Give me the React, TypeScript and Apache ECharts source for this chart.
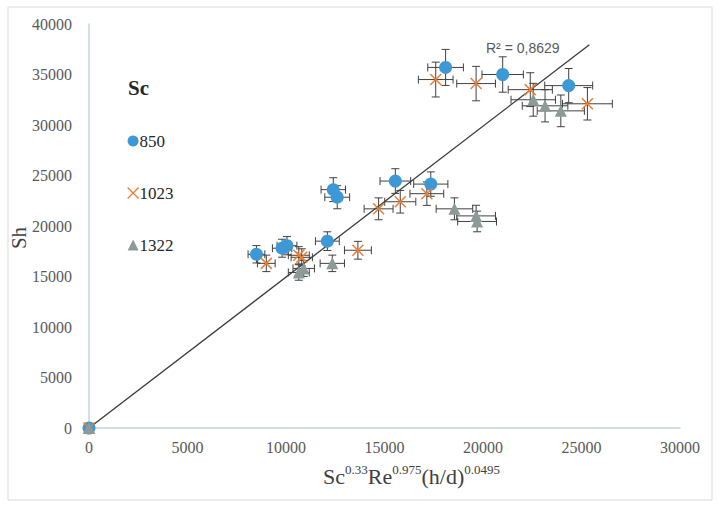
import React, { useEffect, useRef } from "react";
import * as echarts from "echarts";

// Sc = 850
const sc850X = [0, 8500, 9800, 10050, 12100, 12400, 12600, 15550, 17350, 18100, 21000, 24350];
const sc850Y = [0, 17200, 17800, 18050, 18500, 23600, 22850, 24450, 24150, 35700, 35000, 33900];
// Sc = 1023
const sc1023X = [0, 9000, 10650, 10800, 13650, 14700, 15800, 17150, 17600, 19650, 22400, 25300];
const sc1023Y = [0, 16300, 17100, 16900, 17600, 21700, 22400, 23200, 34500, 34100, 33500, 32100];
// Sc = 1322
const sc1322X = [0, 10650, 10900, 12350, 18550, 19650, 19700, 22550, 23150, 23950];
const sc1322Y = [0, 15400, 15800, 16300, 21700, 21000, 20450, 32500, 31900, 31400];

// linear trendline end points
const trendX = [0, 25400];
const trendY = [0, 37950];
const r2Label = "R² = 0,8629";

const errorFraction = 0.05;

const xTicks = { min: 0, max: 30000, interval: 5000 };
const yTicks = { min: 0, max: 40000, interval: 5000 };

const seriesNames = ["850", "1023", "1322"];
const colors = ["#3d98d6", "#ed7d31", "#8c9a98"];

const toPairs = (xs: number[], ys: number[]) => xs.map((x, i) => [x, ys[i]]);

function errorSeries(xs: number[], ys: number[], z: number) {
  return {
    type: "custom",
    silent: true,
    z,
    data: toPairs(xs, ys),
    renderItem: (params: any, api: any) => {
      const x = api.value(0);
      const y = api.value(1);
      const dx = x * errorFraction;
      const dy = y * errorFraction;
      const l = api.coord([x - dx, y]);
      const r = api.coord([x + dx, y]);
      const t = api.coord([x, y + dy]);
      const b = api.coord([x, y - dy]);
      const cap = 4;
      const style = { stroke: "#404040", lineWidth: 1 };
      const line = (x1: number, y1: number, x2: number, y2: number) => ({
        type: "line",
        shape: { x1, y1, x2, y2 },
        style,
      });
      return {
        type: "group",
        children: [
          line(l[0], l[1], r[0], r[1]),
          line(l[0], l[1] - cap, l[0], l[1] + cap),
          line(r[0], r[1] - cap, r[0], r[1] + cap),
          line(t[0], t[1], b[0], b[1]),
          line(t[0] - cap, t[1], t[0] + cap, t[1]),
          line(b[0] - cap, b[1], b[0] + cap, b[1]),
        ],
      };
    },
  };
}

const xSymbol = "path://M0,0L10,10M10,0L0,10";
const serif = "Liberation Serif";

export default function App() {
  const ref = useRef<HTMLDivElement>(null);
  useEffect(() => {
    document.body.style.margin = "0";
    const chart = echarts.init(ref.current!, undefined, { renderer: "svg" });
    const axisLabel = {
      color: "#595959",
      fontFamily: serif,
      fontSize: 16,
      formatter: (v: number) => String(v),
    };
    const axisLine = { show: true, lineStyle: { color: "#c8d5da", width: 1.5 } };
    chart.setOption({
      animation: false,
      backgroundColor: "#ffffff",
      textStyle: { fontFamily: serif },
      grid: { left: 89, right: 39, top: 24, bottom: 79, containLabel: false, outerBoundsMode: "none" },
      xAxis: {
        type: "value",
        ...xTicks,
        axisLine,
        axisTick: { show: false },
        splitLine: { show: false },
        axisLabel: { ...axisLabel, margin: 11 },
        name: "{b|Sc}{s|0.33}{b|Re}{s|0.975}{b|(h/d)}{s|0.0495}",
        nameLocation: "middle",
        nameGap: 35,
        nameTextStyle: {
          padding: [0, 0, 0, 54],
          rich: {
            b: { fontFamily: serif, fontSize: 22, color: "#404040", lineHeight: 24, verticalAlign: "bottom" },
            s: {
              fontFamily: serif,
              fontSize: 13,
              color: "#404040",
              lineHeight: 13,
              verticalAlign: "bottom",
              padding: [0, 0, 11, 0],
            },
          },
        },
      },
      yAxis: {
        type: "value",
        ...yTicks,
        axisLine,
        axisTick: { show: false },
        splitLine: { show: false },
        axisLabel: { ...axisLabel, margin: 17 },
      },
      legend: {
        orient: "vertical",
        left: 122,
        top: 127,
        itemWidth: 11,
        itemHeight: 11,
        itemGap: 34,
        textStyle: { fontFamily: serif, fontSize: 17, color: "#262626", lineHeight: 18, padding: [0, 0, 0, -4] },
        data: [
          { name: "850", icon: "circle", itemStyle: { color: colors[0] } },
          { name: "1023", icon: xSymbol, itemStyle: { color: "transparent", borderColor: colors[1], borderWidth: 1.2 } },
          { name: "1322", icon: "triangle", itemStyle: { color: colors[2] } },
        ],
      },
      graphic: [
        {
          type: "rect",
          shape: { x: 8, y: 7, width: 704, height: 493 },
          style: { fill: "none", stroke: "#d9d9d9", lineWidth: 1 },
          silent: true,
        },
        {
          type: "text",
          x: 19,
          y: 238,
          rotation: Math.PI / 2,
          style: {
            text: "Sh",
            fontFamily: serif,
            fontSize: 21,
            fill: "#404040",
            align: "center",
            verticalAlign: "middle",
          },
        },
        {
          type: "text",
          left: 128,
          top: 77,
          style: { text: "Sc", fontFamily: serif, fontSize: 21, fontWeight: "bold", fill: "#262626" },
        },
        {
          type: "text",
          left: 486,
          top: 41,
          style: { text: r2Label, fontFamily: "Liberation Sans", fontSize: 14, fill: "#595959" },
        },
      ],
      series: [
        {
          name: "trend",
          type: "line",
          data: toPairs(trendX, trendY),
          symbol: "none",
          lineStyle: { color: "#3a3a3a", width: 1.3 },
          z: 1,
        },
        errorSeries(sc850X, sc850Y, 2),
        errorSeries(sc1023X, sc1023Y, 2),
        errorSeries(sc1322X, sc1322Y, 2),
        {
          name: seriesNames[0],
          type: "scatter",
          data: toPairs(sc850X, sc850Y),
          symbol: "circle",
          symbolSize: 13,
          itemStyle: { color: colors[0], opacity: 1 },
          z: 3,
        },
        {
          name: seriesNames[1],
          type: "scatter",
          data: toPairs(sc1023X, sc1023Y),
          symbol: xSymbol,
          symbolSize: 11,
          itemStyle: { color: "transparent", borderColor: colors[1], borderWidth: 1.5, opacity: 1 },
          z: 3,
        },
        {
          name: seriesNames[2],
          type: "scatter",
          data: toPairs(sc1322X, sc1322Y),
          symbol: "triangle",
          symbolSize: 12,
          itemStyle: { color: colors[2], opacity: 1 },
          z: 3,
        },
      ],
    });
    return () => chart.dispose();
  }, []);
  return <div ref={ref} style={{ width: 719, height: 507 }} />;
}
